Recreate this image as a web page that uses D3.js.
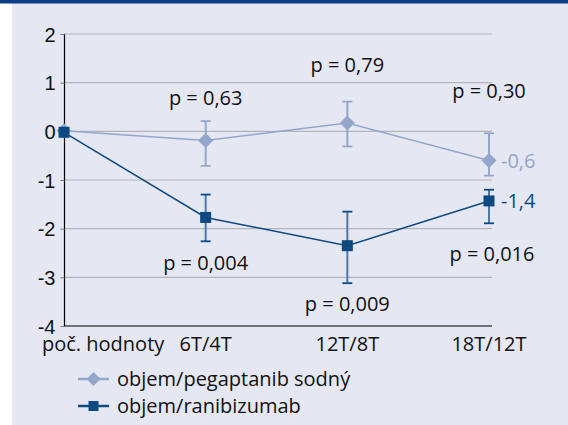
<!DOCTYPE html>
<html>
<head>
<meta charset="utf-8">
<script src="https://cdn.jsdelivr.net/npm/d3@7/dist/d3.min.js"></script>
<style>
  body { margin: 0; background: #fff; }
  svg { display: block; font-family: "Open Sans", "Noto Sans", sans-serif; }
</style>
</head>
<body>
<svg id="chart" width="568" height="425"></svg>
<script>
// data
var categories = ["poč. hodnoty", "6T/4T", "12T/8T", "18T/12T"];
var yTicks = [2, 1, 0, -1, -2, -3, -4];

var pegaptanib = [0, -0.2, 0.16, -0.61];
var pegaptanibLow = [0, -0.72, -0.32, -0.92];
var pegaptanibHigh = [0, 0.2, 0.6, -0.05];

var ranibizumab = [-0.03, -1.78, -2.36, -1.44];
var ranibizumabLow = [-0.03, -2.27, -3.13, -1.9];
var ranibizumabHigh = [-0.03, -1.31, -1.66, -1.21];

var pTop = ["", "p = 0,63", "p = 0,79", "p = 0,30"];
var pTopValue = [0, 0.54, 1.2, 0.68];
var pBottom = ["", "p = 0,004", "p = 0,009", "p = 0,016"];
var pBottomValue = [0, -2.85, -3.7, -2.68];

var endLabels = ["-0,6", "-1,4"];
var legendNames = ["objem/pegaptanib sodný", "objem/ranibizumab"];

var lightColor = "#93a7cc";
var darkColor = "#0e4a82";
var darkBarColor = "#4d78aa";
var fontSize = 20;

var svg = d3.select("#chart");

// panel
svg.append("rect").attr("x", 12).attr("y", 0).attr("width", 556).attr("height", 425).attr("fill", "#e5e7f3");
svg.append("rect").attr("x", 0).attr("y", 0).attr("width", 568).attr("height", 3.5).attr("fill", "#0a3f85");

var x = d3.scalePoint().domain(categories).range([64, 489]);
var y = d3.scaleLinear().domain([-4, 2]).range([325.5, 33.5]);

// gridlines
svg.append("g").selectAll("line").data(yTicks.filter(function(d) { return d > -4; }))
    .enter().append("line")
    .attr("x1", 64).attr("x2", 492)
    .attr("y1", function(d) { return y(d) + 0.5; })
    .attr("y2", function(d) { return y(d) + 0.5; })
    .attr("stroke", "#b4b4b8").attr("stroke-width", 1.2);

// y axis, hyphen minus like the original
var yAxis = d3.axisLeft(y).tickValues(yTicks).tickSize(4)
    .tickFormat(function(d) { return String(d); });
var gy = svg.append("g").attr("transform", "translate(64.5,0.5)").call(yAxis);
gy.select(".domain").attr("stroke", "#000").attr("stroke-width", 1.2).attr("d", "M0," + y(-4) + "V" + y(2));
gy.selectAll(".tick line").attr("stroke", "#777");
gy.selectAll(".tick text").attr("font-size", fontSize).attr("fill", "#111").attr("x", -9).attr("dy", "0.36em");

// x axis
svg.append("line").attr("x1", 64).attr("x2", 492).attr("y1", y(-4) + 0.5).attr("y2", y(-4) + 0.5)
    .attr("stroke", "#000").attr("stroke-width", 1.2);
svg.append("g").selectAll("text").data(categories).enter().append("text")
    .attr("x", function(d, i) { return i == 0 ? x(d) - 22 : x(d); })
    .attr("y", 351)
    .attr("text-anchor", function(d, i) { return i == 0 ? "start" : "middle"; })
    .attr("font-size", fontSize)
    .attr("fill", "#111")
    .text(function(d) { return d; });

var line = d3.line().x(function(d, i) { return x(categories[i]); }).y(function(d) { return y(d); });

function drawErrorBars(vals, lows, highs, barColor, capColor) {
    var g = svg.append("g");
    vals.forEach(function(v, i) {
        if (i == 0) return;
        var cx = x(categories[i]);
        g.append("line").attr("x1", cx).attr("x2", cx).attr("y1", y(highs[i])).attr("y2", y(lows[i]))
            .attr("stroke", barColor).attr("stroke-width", 2);
        [lows[i], highs[i]].forEach(function(e) {
            g.append("line").attr("x1", cx - 5).attr("x2", cx + 5).attr("y1", y(e)).attr("y2", y(e))
                .attr("stroke", capColor).attr("stroke-width", 1.8);
        });
    });
}

// pegaptanib series
svg.append("path").datum(pegaptanib).attr("d", line).attr("fill", "none")
    .attr("stroke", lightColor).attr("stroke-width", 1.5);
drawErrorBars(pegaptanib, pegaptanibLow, pegaptanibHigh, lightColor, lightColor);
svg.append("g").selectAll("path").data(pegaptanib).enter().append("path")
    .attr("transform", function(d, i) { return "translate(" + x(categories[i]) + "," + y(d) + ")"; })
    .attr("d", "M0,-7.5L7.5,0L0,7.5L-7.5,0Z")
    .attr("fill", lightColor);

// ranibizumab series
svg.append("path").datum(ranibizumab).attr("d", line).attr("fill", "none")
    .attr("stroke", darkColor).attr("stroke-width", 1.5);
drawErrorBars(ranibizumab, ranibizumabLow, ranibizumabHigh, darkBarColor, darkColor);
svg.append("g").selectAll("rect").data(ranibizumab).enter().append("rect")
    .attr("x", function(d, i) { return x(categories[i]) - 5.5; })
    .attr("y", function(d) { return y(d) - 5.5; })
    .attr("width", 11).attr("height", 11)
    .attr("fill", darkColor);

// p value labels
var pg = svg.append("g").attr("font-size", fontSize).attr("fill", "#111").attr("text-anchor", "middle");
pTop.forEach(function(t, i) {
    if (!t) return;
    pg.append("text").attr("x", x(categories[i])).attr("y", y(pTopValue[i])).text(t);
});
pBottom.forEach(function(t, i) {
    if (!t) return;
    pg.append("text").attr("x", x(categories[i]) + (i == 3 ? 3 : 0)).attr("y", y(pBottomValue[i])).text(t);
});

// end labels
var last = categories.length - 1;
svg.append("text").attr("x", x(categories[last]) + 12).attr("y", y(pegaptanib[last])).attr("dy", "0.35em")
    .attr("font-size", fontSize).attr("fill", lightColor).text(endLabels[0]);
svg.append("text").attr("x", x(categories[last]) + 12).attr("y", y(ranibizumab[last])).attr("dy", "0.35em")
    .attr("font-size", fontSize).attr("fill", darkColor).text(endLabels[1]);

// legend
var legend = svg.append("g");
legendNames.forEach(function(name, i) {
    var ly = 379 + i * 27;
    var c = i == 0 ? lightColor : darkColor;
    legend.append("line").attr("x1", 78).attr("x2", 109).attr("y1", ly).attr("y2", ly)
        .attr("stroke", c).attr("stroke-width", 2.5);
    if (i == 0) {
        legend.append("path").attr("transform", "translate(93.5," + ly + ")")
            .attr("d", "M0,-7L7,0L0,7L-7,0Z").attr("fill", c);
    } else {
        legend.append("rect").attr("x", 88.5).attr("y", ly - 5).attr("width", 10).attr("height", 10).attr("fill", c);
    }
    legend.append("text").attr("x", 117).attr("y", ly).attr("dy", "0.35em")
        .attr("font-size", fontSize).attr("fill", "#111").text(name);
});
</script>
</body>
</html>
